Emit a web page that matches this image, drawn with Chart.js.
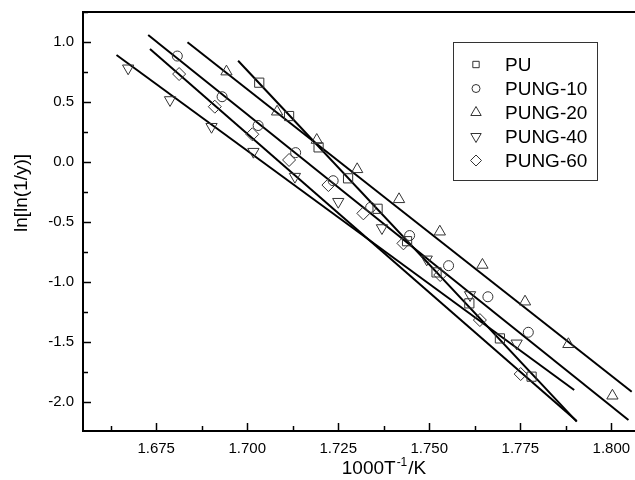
<!DOCTYPE html>
<html>
<head>
<meta charset="utf-8">
<script src="https://cdn.jsdelivr.net/npm/chart.js@4.4.0/dist/chart.umd.min.js"></script>
<style>
html, body { margin: 0; padding: 0; background: #fff; overflow: hidden; }
</style>
</head>
<body>
<canvas id="weibull" width="635" height="480"></canvas>
<script>
// measured points (1000/T, ln[ln(1/y)])
const seriesNames = ['PU', 'PUNG-10', 'PUNG-20', 'PUNG-40', 'PUNG-60'];

const xPU = [1.7033, 1.7115, 1.7196, 1.7277, 1.7358, 1.7439, 1.7520, 1.7610, 1.7694, 1.7781];
const yPU = [0.661, 0.383, 0.122, -0.136, -0.390, -0.660, -0.920, -1.178, -1.470, -1.789];

const xNG10 = [1.6808, 1.6931, 1.7030, 1.7133, 1.7236, 1.7339, 1.7446, 1.7553, 1.7661, 1.7772];
const yNG10 = [0.883, 0.544, 0.304, 0.078, -0.156, -0.378, -0.613, -0.864, -1.123, -1.419];

const xNG20 = [1.6943, 1.7082, 1.7191, 1.7302, 1.7417, 1.7529, 1.7646, 1.7763, 1.7882, 1.8003];
const yNG20 = [0.753, 0.419, 0.183, -0.061, -0.311, -0.581, -0.858, -1.164, -1.519, -1.948];

const xNG40 = [1.6673, 1.6788, 1.6902, 1.7017, 1.7131, 1.7250, 1.7370, 1.7493, 1.7612, 1.7740];
const yNG40 = [0.781, 0.517, 0.294, 0.086, -0.122, -0.331, -0.550, -0.811, -1.108, -1.511];

const xNG60 = [1.6813, 1.6911, 1.7014, 1.7115, 1.7223, 1.7319, 1.7429, 1.7530, 1.7639, 1.7751];
const yNG60 = [0.733, 0.461, 0.231, 0.017, -0.192, -0.428, -0.678, -0.942, -1.317, -1.767];

// fitted straight lines, start and end
const fitX = [[1.6975, 1.7905], [1.6728, 1.8047], [1.6836, 1.8056], [1.6641, 1.7898], [1.6733, 1.7905]];
const fitY = [[0.844, -2.164], [1.058, -2.150], [0.998, -1.914], [0.892, -1.900], [0.942, -2.158]];

const xTicks = [1.675, 1.700, 1.725, 1.750, 1.775, 1.800];
const yTicks = [-2.0, -1.5, -1.0, -0.5, 0.0, 0.5, 1.0];

const xs = [xPU, xNG10, xNG20, xNG40, xNG60];
const ys = [yPU, yNG10, yNG20, yNG40, yNG60];
const markers = [
  { style: 'rect', radius: 6.5, rot: 0, legendRadius: 4.5 },
  { style: 'circle', radius: 5, rot: 0, legendRadius: 4 },
  { style: 'triangle', radius: 6.5, rot: 0, legendRadius: 6 },
  { style: 'triangle', radius: 6.5, rot: 180, legendRadius: 6 },
  { style: 'rectRot', radius: 6.5, rot: 0, legendRadius: 5.5 }
];

Chart.defaults.font.family = '"Liberation Sans", Arial, sans-serif';
Chart.defaults.color = '#000';

const datasets = [];
seriesNames.forEach((name, i) => {
  datasets.push({
    label: name,
    data: xs[i].map((x, j) => ({ x: x, y: ys[i][j] })),
    showLine: false,
    pointStyle: markers[i].style,
    pointRotation: markers[i].rot,
    pointRadius: markers[i].radius,
    pointBorderWidth: 1,
    pointBorderColor: '#333',
    pointBackgroundColor: 'rgba(0,0,0,0)'
  });
});
seriesNames.forEach((name, i) => {
  datasets.push({
    label: name + ' fit',
    data: fitX[i].map((x, j) => ({ x: x, y: fitY[i][j] })),
    showLine: true,
    borderColor: '#000',
    borderWidth: 2,
    pointRadius: 0
  });
});

const stepDo = (min, max, step, fn) => {
  const k0 = Math.ceil(min / step - 1e-6), k1 = Math.floor(max / step + 1e-6);
  for (let k = k0; k <= k1; k++) fn(k * step, k);
};

const decor = {
  id: 'decor',
  afterDatasetsDraw(chart) {
    const { ctx, chartArea: a, scales: { x, y } } = chart;
    ctx.save();
    ctx.strokeStyle = '#000';
    ctx.lineWidth = 2;
    ctx.beginPath();
    ctx.moveTo(a.left - 1, a.top);
    ctx.lineTo(a.right, a.top);
    ctx.stroke();

    // inward ticks
    ctx.lineWidth = 1.5;
    stepDo(x.min, x.max, 0.0125, (v, k) => {
      const px = Math.round(x.getPixelForValue(v)) + 0.5;
      const len = k % 2 === 0 ? 8 : 5;
      ctx.beginPath();
      ctx.moveTo(px, a.bottom);
      ctx.lineTo(px, a.bottom - len);
      ctx.stroke();
    });
    stepDo(y.min, y.max, 0.25, (v, k) => {
      const py = Math.round(y.getPixelForValue(v)) + 0.5;
      const len = k % 2 === 0 ? 8 : 5;
      ctx.beginPath();
      ctx.moveTo(a.left, py);
      ctx.lineTo(a.left + len, py);
      ctx.stroke();
    });

    // axis titles
    ctx.fillStyle = '#000';
    ctx.font = '19px "Liberation Sans", Arial, sans-serif';
    ctx.textBaseline = 'alphabetic';
    const t1 = '1000T', t2 = '/K', sup = '-1';
    const w1 = ctx.measureText(t1).width, w2 = ctx.measureText(t2).width;
    ctx.font = '12px "Liberation Sans", Arial, sans-serif';
    const ws = ctx.measureText(sup).width;
    let tx = 383 - (w1 + ws + w2) / 2;
    const ty = 474;
    ctx.font = '19px "Liberation Sans", Arial, sans-serif';
    ctx.textAlign = 'left';
    ctx.fillText(t1, tx, ty);
    ctx.font = '12px "Liberation Sans", Arial, sans-serif';
    ctx.fillText(sup, tx + w1 + 1, ty - 8);
    ctx.font = '19px "Liberation Sans", Arial, sans-serif';
    ctx.fillText(t2, tx + w1 + ws + 2, ty);

    ctx.save();
    ctx.translate(27, 193);
    ctx.rotate(-Math.PI / 2);
    ctx.textAlign = 'center';
    ctx.fillText('ln[ln(1/y)]', 0, 0);
    ctx.restore();

    // legend box
    const bx = 453, by = 42, bw = 144, bh = 138;
    ctx.fillStyle = '#fff';
    ctx.fillRect(bx, by, bw, bh);
    ctx.strokeStyle = '#333';
    ctx.lineWidth = 1;
    ctx.strokeRect(bx + 0.5, by + 0.5, bw, bh);
    seriesNames.forEach((name, i) => {
      const cy = 64.5 + i * 24;
      ctx.strokeStyle = '#333';
      ctx.fillStyle = 'rgba(0,0,0,0)';
      ctx.lineWidth = 1;
      Chart.helpers.drawPoint(ctx, {
        pointStyle: markers[i].style,
        rotation: markers[i].rot,
        radius: markers[i].legendRadius,
        borderWidth: 1
      }, 476, cy);
      ctx.fillStyle = '#000';
      ctx.font = '19px "Liberation Sans", Arial, sans-serif';
      ctx.textAlign = 'left';
      ctx.textBaseline = 'middle';
      ctx.fillText(name, 505, cy + 1);
    });
    ctx.restore();
  }
};

new Chart(document.getElementById('weibull'), {
  type: 'scatter',
  data: { datasets: datasets },
  options: {
    responsive: false,
    animation: false,
    layout: { autoPadding: false, padding: { top: 12, right: 0, left: 0, bottom: 0 } },
    plugins: { legend: { display: false }, tooltip: { enabled: false } },
    scales: {
      x: {
        type: 'linear',
        min: 1.6549,
        max: 1.8065,
        afterFit: s => { s.height = 49; s.paddingLeft = 0; s.paddingRight = 0; },
        afterBuildTicks: s => { s.ticks = xTicks.map(v => ({ value: v })); },
        grid: { display: true, drawOnChartArea: false, drawTicks: false },
        border: { display: true, color: '#000', width: 2 },
        ticks: { padding: 9, font: { size: 15 }, callback: v => v.toFixed(3), maxRotation: 0 }
      },
      y: {
        type: 'linear',
        min: -2.2417,
        max: 1.25,
        afterFit: s => { s.width = 83; s.paddingTop = 0; s.paddingBottom = 0; },
        afterBuildTicks: s => { s.ticks = yTicks.map(v => ({ value: v })); },
        grid: { display: true, drawOnChartArea: false, drawTicks: false },
        border: { display: true, color: '#000', width: 2 },
        ticks: { padding: 9, font: { size: 15 }, callback: v => v.toFixed(1) }
      }
    }
  },
  plugins: [decor]
});
</script>
</body>
</html>
